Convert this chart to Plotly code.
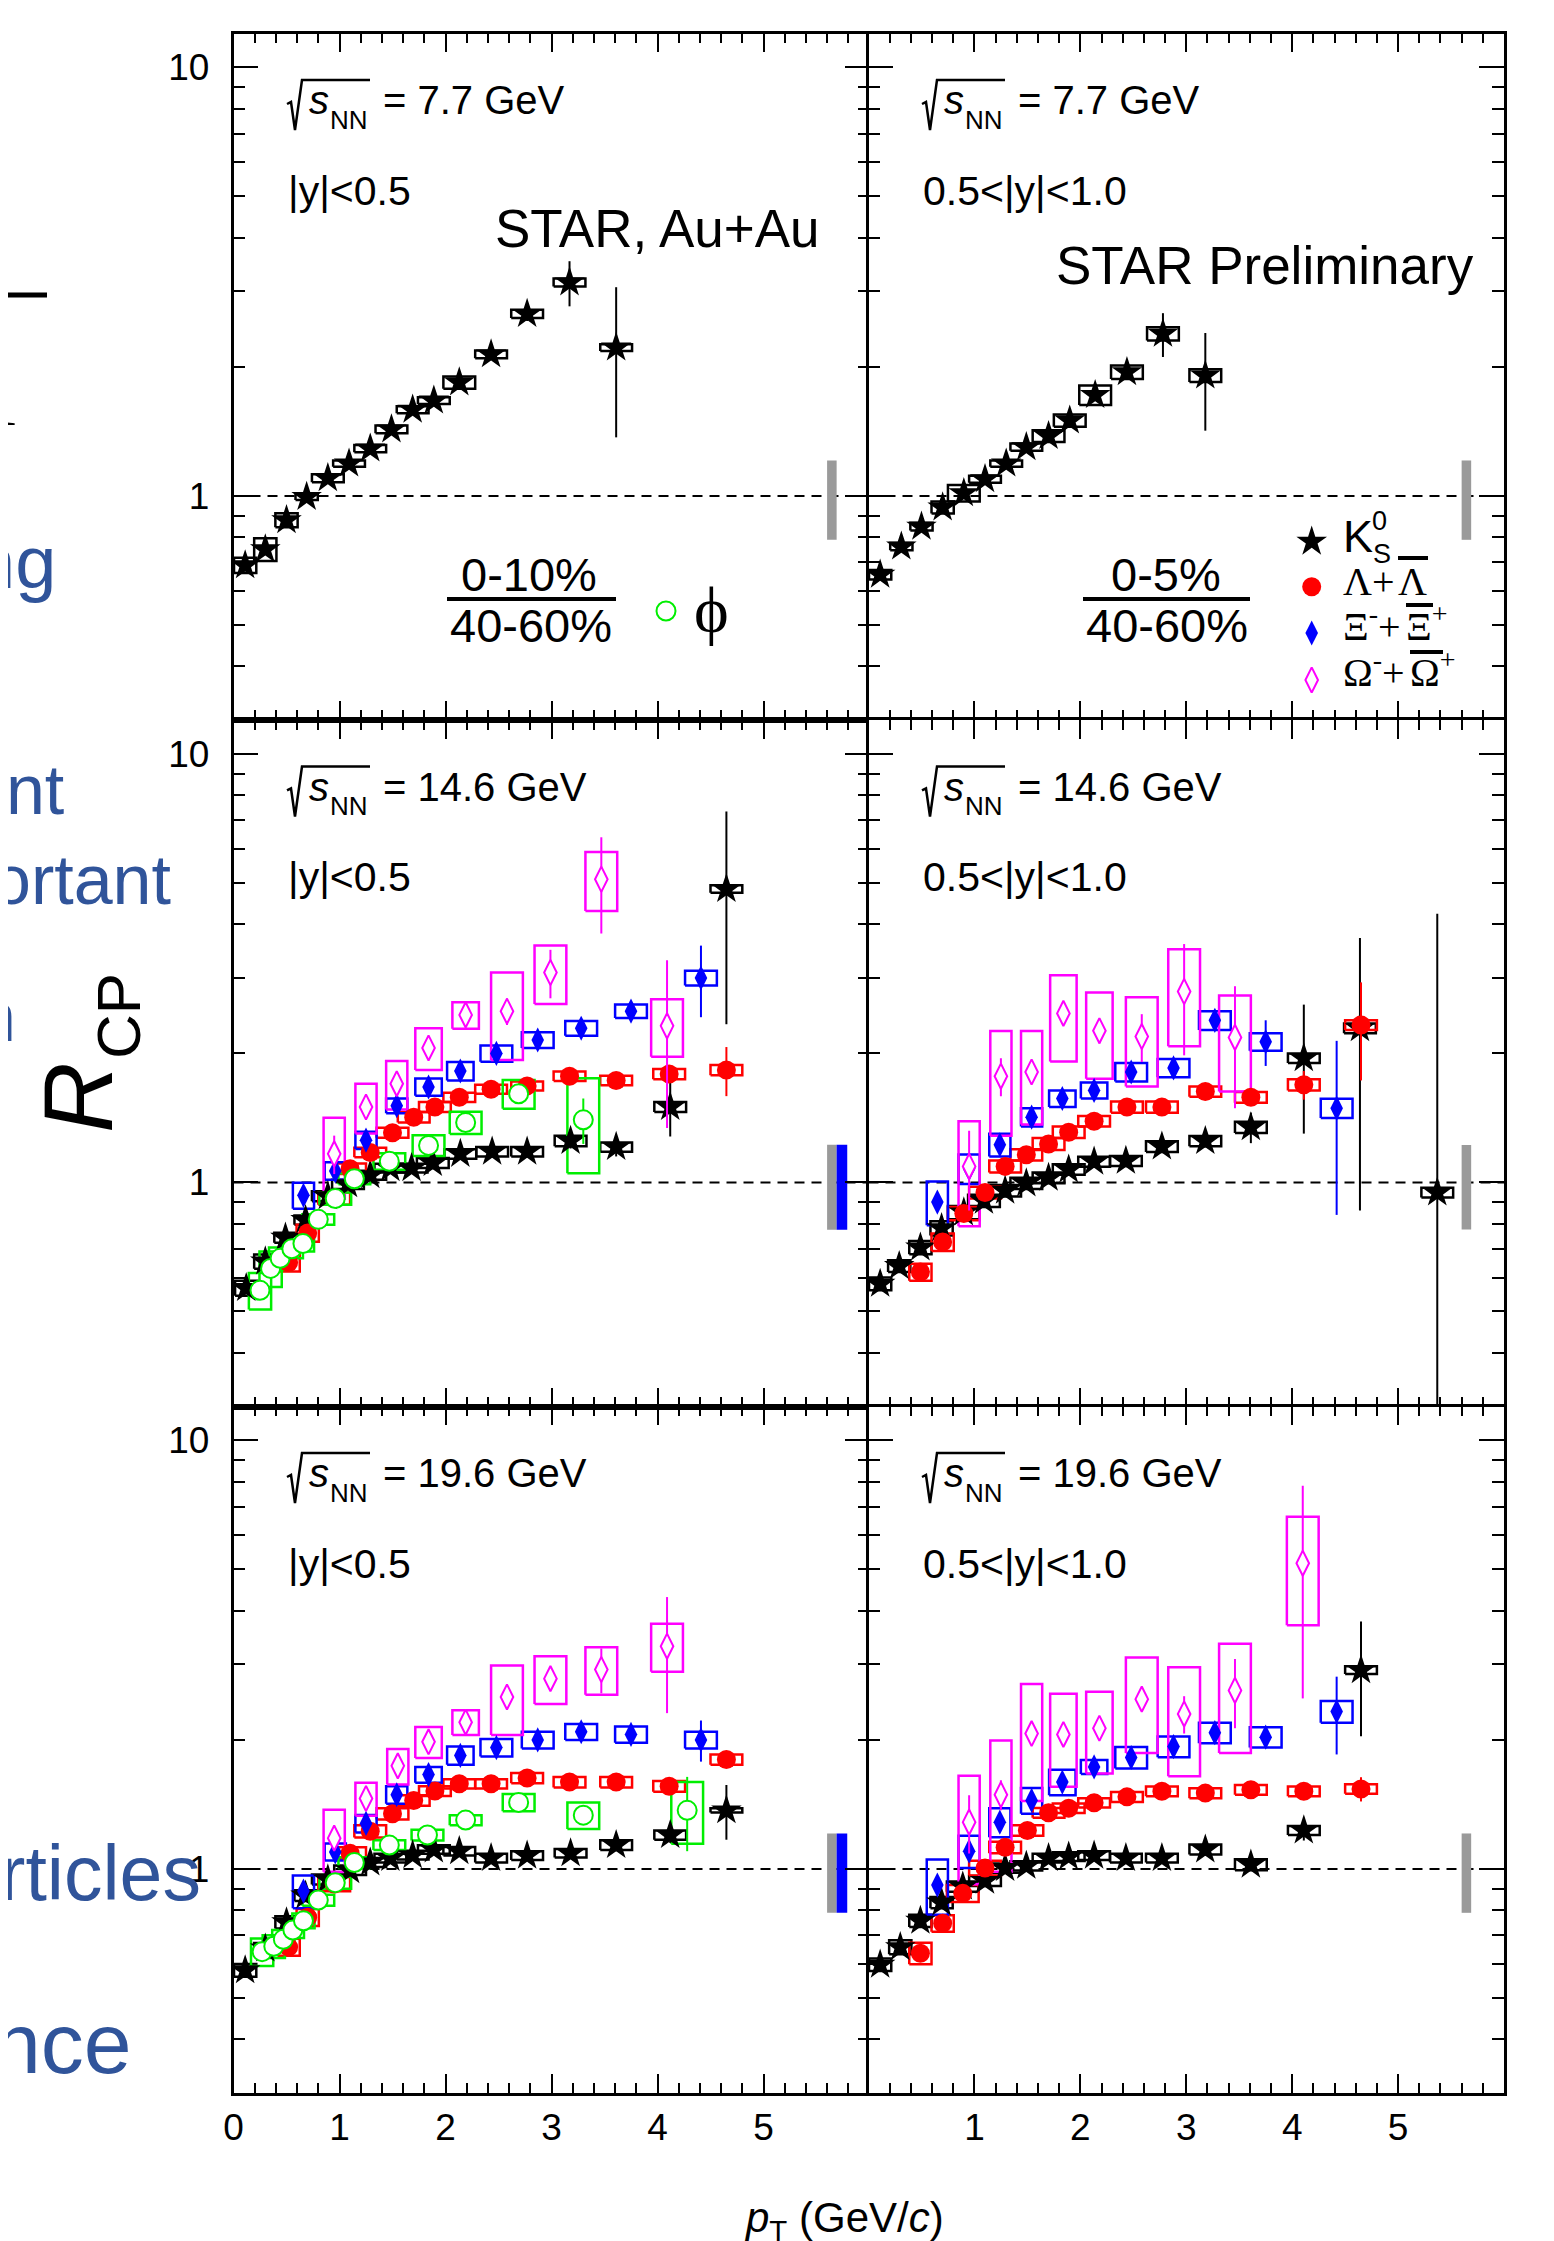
import math
import plotly.graph_objects as go

# ============ DATA ============
# --- sqrt(sNN) = 7.7 GeV ---
k0s_77_y05_pt = [0.11, 0.30, 0.50, 0.69, 0.89, 1.09, 1.29, 1.49, 1.69, 1.89, 2.13, 2.43, 2.77, 3.17, 3.61]
k0s_77_y05_r = [0.689, 0.751, 0.878, 0.995, 1.10, 1.19, 1.29, 1.43, 1.59, 1.67, 1.84, 2.14, 2.66, 3.15, 2.22]
k0s_77_y05_stat = [0.01, 0.01, 0.01, 0.01, 0.01, 0.01, 0.02, 0.02, 0.02, 0.03, 0.04, 0.06, 0.10, 0.38, 0.85]
k0s_77_y05_sys = [0.028, 0.046, 0.033, 0.016, 0.023, 0.02, 0.025, 0.03, 0.03, 0.03, 0.06, 0.045, 0.06, 0.067, 0.04]

k0s_77_y10_pt = [0.11, 0.31, 0.50, 0.70, 0.90, 1.10, 1.30, 1.49, 1.70, 1.90, 2.14, 2.44, 2.78, 3.18]
k0s_77_y10_r = [0.655, 0.762, 0.848, 0.94, 1.015, 1.094, 1.19, 1.30, 1.38, 1.50, 1.72, 1.945, 2.39, 1.91]
k0s_77_y10_stat = [0.01, 0.01, 0.01, 0.01, 0.01, 0.01, 0.02, 0.02, 0.02, 0.03, 0.04, 0.06, 0.28, 0.49]
k0s_77_y10_sys = [0.017, 0.015, 0.018, 0.03, 0.045, 0.02, 0.02, 0.025, 0.043, 0.05, 0.09, 0.07, 0.085, 0.065]

# --- sqrt(sNN) = 14.6 GeV, |y|<0.5 ---
k0s_146_y05_pt = [0.12, 0.30, 0.49, 0.68, 0.89, 1.08, 1.29, 1.48, 1.68, 1.88, 2.14, 2.44, 2.77, 3.18, 3.61, 4.12, 4.65]
k0s_146_y05_r = [0.567, 0.654, 0.743, 0.817, 0.929, 0.99, 1.04, 1.08, 1.08, 1.11, 1.166, 1.18, 1.18, 1.25, 1.21, 1.50, 4.84]
k0s_146_y05_stat = [0.01, 0.01, 0.01, 0.01, 0.01, 0.01, 0.01, 0.01, 0.02, 0.02, 0.02, 0.03, 0.03, 0.05, 0.06, 0.22, 2.5]
k0s_146_y05_sys = [0.023, 0.025, 0.02, 0.02, 0.025, 0.025, 0.025, 0.025, 0.025, 0.03, 0.03, 0.03, 0.03, 0.035, 0.03, 0.04, 0.1]

lam_146_y05_pt = [0.52, 0.70, 0.95, 1.10, 1.29, 1.50, 1.70, 1.90, 2.13, 2.43, 2.77, 3.17, 3.61, 4.11, 4.65]
lam_146_y05_r = [0.65, 0.762, 0.917, 1.077, 1.175, 1.306, 1.42, 1.50, 1.58, 1.65, 1.68, 1.77, 1.73, 1.79, 1.83]
lam_146_y05_stat = [0.01, 0.01, 0.01, 0.01, 0.01, 0.02, 0.02, 0.02, 0.02, 0.03, 0.03, 0.04, 0.05, 0.07, 0.24]
lam_146_y05_sys = [0.03, 0.035, 0.03, 0.03, 0.03, 0.035, 0.04, 0.04, 0.04, 0.04, 0.04, 0.045, 0.045, 0.05, 0.05]

xi_146_y05_pt = [0.66, 0.96, 1.25, 1.54, 1.84, 2.14, 2.48, 2.87, 3.28, 3.75, 4.41]
xi_146_y05_r = [0.933, 1.064, 1.255, 1.51, 1.67, 1.82, 2.0, 2.15, 2.29, 2.51, 3.0]
xi_146_y05_stat = [0.03, 0.04, 0.04, 0.04, 0.05, 0.07, 0.07, 0.08, 0.09, 0.10, 0.57]
xi_146_y05_sys = [0.065, 0.05, 0.058, 0.06, 0.077, 0.09, 0.087, 0.09, 0.09, 0.09, 0.12]

om_146_y05_pt = [0.95, 1.25, 1.54, 1.84, 2.19, 2.58, 2.99, 3.47, 4.09]
om_146_y05_r = [1.166, 1.50, 1.70, 2.06, 2.46, 2.51, 3.09, 5.1, 2.32]
om_146_y05_stat = [0.12, 0.06, 0.1, 0.1, 0.05, 0.18, 0.4, 1.29, 0.98]
om_146_y05_sys = [0.25, 0.2, 0.22, 0.23, 0.175, 0.58, 0.48, 0.8, 0.355]

phi_146_y05_pt = [0.25, 0.35, 0.44, 0.55, 0.655, 0.80, 0.96, 1.14, 1.47, 1.84, 2.19, 2.69, 3.30]
phi_146_y05_r = [0.56, 0.63, 0.665, 0.70, 0.72, 0.82, 0.917, 1.02, 1.12, 1.22, 1.38, 1.61, 1.40]
phi_146_y05_stat = [0.02, 0.02, 0.02, 0.02, 0.02, 0.02, 0.02, 0.02, 0.02, 0.03, 0.03, 0.05, 0.17]
phi_146_y05_sys = [0.055, 0.06, 0.04, 0.035, 0.03, 0.023, 0.03, 0.03, 0.05, 0.068, 0.083, 0.125, 0.35]

# --- sqrt(sNN) = 14.6 GeV, 0.5<|y|<1.0 ---
k0s_146_y10_pt = [0.11, 0.29, 0.49, 0.69, 0.90, 1.09, 1.29, 1.49, 1.70, 1.89, 2.13, 2.43, 2.77, 3.18, 3.61, 4.11, 4.64, 5.37]
k0s_146_y10_r = [0.58, 0.638, 0.705, 0.782, 0.851, 0.906, 0.957, 0.995, 1.025, 1.072, 1.118, 1.123, 1.213, 1.249, 1.345, 1.95, 2.29, 0.947]
k0s_146_y10_stat = [0.01, 0.01, 0.01, 0.01, 0.01, 0.01, 0.01, 0.01, 0.01, 0.02, 0.02, 0.02, 0.03, 0.04, 0.11, 0.65, 1.43, 3.29]
k0s_146_y10_stat_lo = [0.01, 0.01, 0.01, 0.01, 0.01, 0.01, 0.01, 0.01, 0.01, 0.02, 0.02, 0.02, 0.03, 0.04, 0.11, 0.65, 1.43, 0.90]
k0s_146_y10_sys = [0.02, 0.02, 0.025, 0.03, 0.03, 0.03, 0.03, 0.03, 0.03, 0.03, 0.03, 0.03, 0.035, 0.035, 0.04, 0.05, 0.06, 0.025]

lam_146_y10_pt = [0.49, 0.70, 0.90, 1.10, 1.29, 1.49, 1.70, 1.89, 2.13, 2.44, 2.77, 3.18, 3.61, 4.11, 4.65]
lam_146_y10_r = [0.618, 0.726, 0.846, 0.947, 1.09, 1.16, 1.23, 1.31, 1.39, 1.50, 1.50, 1.63, 1.58, 1.69, 2.33]
lam_146_y10_stat = [0.01, 0.01, 0.01, 0.01, 0.02, 0.02, 0.02, 0.02, 0.02, 0.03, 0.03, 0.04, 0.05, 0.13, 0.6]
lam_146_y10_sys = [0.028, 0.034, 0.03, 0.03, 0.035, 0.035, 0.04, 0.04, 0.04, 0.045, 0.045, 0.045, 0.045, 0.05, 0.06]

xi_146_y10_pt = [0.65, 0.95, 1.24, 1.54, 1.83, 2.13, 2.48, 2.88, 3.27, 3.75, 4.42]
xi_146_y10_r = [0.90, 1.077, 1.224, 1.42, 1.57, 1.64, 1.81, 1.85, 2.39, 2.13, 1.49]
xi_146_y10_stat = [0.03, 0.05, 0.04, 0.04, 0.04, 0.05, 0.06, 0.07, 0.10, 0.26, 0.65]
xi_146_y10_sys = [0.105, 0.085, 0.075, 0.07, 0.07, 0.07, 0.09, 0.09, 0.12, 0.1, 0.077]

om_146_y10_pt = [0.95, 1.25, 1.54, 1.84, 2.18, 2.58, 2.98, 3.46]
om_146_y10_r = [1.09, 1.77, 1.81, 2.48, 2.26, 2.19, 2.79, 2.18]
om_146_y10_stat = [0.23, 0.18, 0.1, 0.15, 0.15, 0.28, 0.81, 0.69]
om_146_y10_sys = [0.30, 0.485, 0.445, 0.565, 0.515, 0.515, 0.71, 0.55]

# --- sqrt(sNN) = 19.6 GeV, |y|<0.5 ---
k0s_196_y05_pt = [0.11, 0.30, 0.50, 0.68, 0.89, 1.10, 1.29, 1.48, 1.69, 1.89, 2.13, 2.43, 2.77, 3.18, 3.61, 4.12, 4.65]
k0s_196_y05_r = [0.58, 0.652, 0.751, 0.867, 0.945, 0.993, 1.035, 1.06, 1.077, 1.11, 1.10, 1.06, 1.074, 1.088, 1.137, 1.20, 1.37]
k0s_196_y05_stat = [0.01, 0.01, 0.01, 0.01, 0.01, 0.01, 0.01, 0.01, 0.01, 0.01, 0.01, 0.02, 0.02, 0.02, 0.03, 0.05, 0.20]
k0s_196_y05_sys = [0.02, 0.02, 0.025, 0.025, 0.025, 0.025, 0.025, 0.025, 0.025, 0.025, 0.025, 0.025, 0.025, 0.025, 0.03, 0.03, 0.015]

lam_196_y05_pt = [0.52, 0.70, 0.95, 1.10, 1.29, 1.50, 1.70, 1.90, 2.13, 2.43, 2.77, 3.17, 3.61, 4.11, 4.65]
lam_196_y05_r = [0.657, 0.771, 0.922, 1.088, 1.224, 1.345, 1.445, 1.52, 1.58, 1.58, 1.63, 1.595, 1.595, 1.56, 1.80]
lam_196_y05_stat = [0.01, 0.01, 0.01, 0.01, 0.01, 0.01, 0.02, 0.02, 0.02, 0.02, 0.02, 0.02, 0.03, 0.04, 0.08]
lam_196_y05_sys = [0.03, 0.035, 0.035, 0.035, 0.04, 0.04, 0.04, 0.04, 0.04, 0.04, 0.045, 0.045, 0.045, 0.045, 0.05]

xi_196_y05_pt = [0.66, 0.96, 1.25, 1.54, 1.84, 2.14, 2.48, 2.87, 3.28, 3.75, 4.41]
xi_196_y05_r = [0.888, 1.096, 1.277, 1.49, 1.66, 1.84, 1.92, 2.0, 2.09, 2.06, 2.0]
xi_196_y05_stat = [0.02, 0.03, 0.03, 0.03, 0.04, 0.04, 0.05, 0.06, 0.07, 0.08, 0.22]
xi_196_y05_sys = [0.078, 0.05, 0.06, 0.07, 0.07, 0.09, 0.09, 0.09, 0.09, 0.09, 0.09]

om_196_y05_pt = [0.95, 1.25, 1.55, 1.84, 2.19, 2.58, 2.99, 3.47, 4.09]
om_196_y05_r = [1.18, 1.46, 1.74, 1.98, 2.20, 2.52, 2.78, 2.92, 3.31]
om_196_y05_stat = [0.06, 0.05, 0.06, 0.07, 0.07, 0.10, 0.15, 0.35, 1.0]
om_196_y05_sys = [0.195, 0.13, 0.165, 0.165, 0.145, 0.465, 0.355, 0.37, 0.425]

phi_196_y05_pt = [0.27, 0.38, 0.47, 0.56, 0.66, 0.80, 0.96, 1.14, 1.47, 1.83, 2.19, 2.69, 3.30, 4.28]
phi_196_y05_r = [0.641, 0.66, 0.685, 0.72, 0.757, 0.846, 0.929, 1.035, 1.137, 1.20, 1.30, 1.43, 1.335, 1.37]
phi_196_y05_stat = [0.02, 0.02, 0.02, 0.02, 0.02, 0.02, 0.02, 0.02, 0.02, 0.02, 0.02, 0.03, 0.04, 0.27]
phi_196_y05_sys = [0.047, 0.04, 0.035, 0.03, 0.03, 0.025, 0.03, 0.03, 0.03, 0.035, 0.035, 0.066, 0.095, 0.225]

# --- sqrt(sNN) = 19.6 GeV, 0.5<|y|<1.0 ---
k0s_196_y10_pt = [0.11, 0.30, 0.49, 0.69, 0.89, 1.10, 1.29, 1.49, 1.70, 1.89, 2.13, 2.43, 2.77, 3.18, 3.61, 4.11, 4.65]
k0s_196_y10_r = [0.598, 0.657, 0.757, 0.835, 0.91, 0.938, 1.005, 1.017, 1.06, 1.069, 1.074, 1.06, 1.06, 1.11, 1.023, 1.23, 2.91]
k0s_196_y10_stat = [0.01, 0.01, 0.01, 0.01, 0.01, 0.01, 0.01, 0.01, 0.01, 0.01, 0.01, 0.01, 0.01, 0.01, 0.02, 0.065, 0.87]
k0s_196_y10_sys = [0.02, 0.025, 0.025, 0.025, 0.025, 0.025, 0.025, 0.025, 0.025, 0.025, 0.025, 0.025, 0.025, 0.03, 0.03, 0.03, 0.06]

lam_196_y10_pt = [0.49, 0.70, 0.89, 1.10, 1.29, 1.50, 1.70, 1.89, 2.13, 2.44, 2.77, 3.18, 3.61, 4.11, 4.65]
lam_196_y10_r = [0.636, 0.747, 0.877, 1.005, 1.123, 1.23, 1.352, 1.386, 1.427, 1.473, 1.518, 1.503, 1.53, 1.518, 1.537]
lam_196_y10_stat = [0.01, 0.01, 0.01, 0.01, 0.01, 0.01, 0.02, 0.02, 0.02, 0.02, 0.02, 0.02, 0.03, 0.04, 0.10]
lam_196_y10_sys = [0.037, 0.033, 0.04, 0.04, 0.035, 0.035, 0.035, 0.035, 0.035, 0.04, 0.04, 0.04, 0.04, 0.04, 0.04]

xi_196_y10_pt = [0.65, 0.95, 1.24, 1.54, 1.83, 2.13, 2.48, 2.88, 3.27, 3.75, 4.42]
xi_196_y10_r = [0.917, 1.10, 1.286, 1.445, 1.595, 1.73, 1.82, 1.93, 2.08, 2.03, 2.33]
xi_196_y10_stat = [0.03, 0.04, 0.04, 0.04, 0.04, 0.05, 0.05, 0.06, 0.06, 0.06, 0.48]
xi_196_y10_sys = [0.135, 0.095, 0.1, 0.1, 0.11, 0.065, 0.105, 0.107, 0.115, 0.11, 0.135]

om_196_y10_pt = [0.95, 1.25, 1.54, 1.84, 2.18, 2.58, 2.98, 3.46, 4.10]
om_196_y10_r = [1.286, 1.49, 2.07, 2.06, 2.13, 2.49, 2.30, 2.61, 5.17]
om_196_y10_stat = [0.2, 0.12, 0.1, 0.08, 0.08, 0.1, 0.23, 0.48, 2.67]
om_196_y10_sys = [0.365, 0.505, 0.63, 0.505, 0.46, 0.625, 0.655, 0.745, 1.465]

# normalisation uncertainties (half-height around R_CP = 1)
norm_gray_77_y05 = 0.21
norm_gray_77_y10 = 0.21
norm_gray_146_y05 = 0.224
norm_blue_146_y05 = 0.224
norm_gray_146_y10 = 0.223
norm_gray_196_y05 = 0.21
norm_blue_196_y05 = 0.21
norm_gray_196_y10 = 0.21

ENERGIES = ["7.7", "14.6", "19.6"]
RAPIDITY = ["|y|<0.5", "0.5<|y|<1.0"]
X_TICK_LABELS_LEFT = ["0", "1", "2", "3", "4", "5", ""]
X_TICK_LABELS_RIGHT = ["", "1", "2", "3", "4", "5", ""]
Y_TICK_VALUES = [1, 10]
Y_TICK_LABELS = ["1", "10"]

PANELS = [
    dict(series=[("k0s", k0s_77_y05_pt, k0s_77_y05_r, k0s_77_y05_stat, None, k0s_77_y05_sys)],
         norm=[("gray", norm_gray_77_y05)]),
    dict(series=[("k0s", k0s_77_y10_pt, k0s_77_y10_r, k0s_77_y10_stat, None, k0s_77_y10_sys)],
         norm=[("gray", norm_gray_77_y10)]),
    dict(series=[("k0s", k0s_146_y05_pt, k0s_146_y05_r, k0s_146_y05_stat, None, k0s_146_y05_sys),
                 ("lam", lam_146_y05_pt, lam_146_y05_r, lam_146_y05_stat, None, lam_146_y05_sys),
                 ("xi", xi_146_y05_pt, xi_146_y05_r, xi_146_y05_stat, None, xi_146_y05_sys),
                 ("om", om_146_y05_pt, om_146_y05_r, om_146_y05_stat, None, om_146_y05_sys),
                 ("phi", phi_146_y05_pt, phi_146_y05_r, phi_146_y05_stat, None, phi_146_y05_sys)],
         norm=[("gray", norm_gray_146_y05), ("blue", norm_blue_146_y05)]),
    dict(series=[("k0s", k0s_146_y10_pt, k0s_146_y10_r, k0s_146_y10_stat, k0s_146_y10_stat_lo, k0s_146_y10_sys),
                 ("lam", lam_146_y10_pt, lam_146_y10_r, lam_146_y10_stat, None, lam_146_y10_sys),
                 ("xi", xi_146_y10_pt, xi_146_y10_r, xi_146_y10_stat, None, xi_146_y10_sys),
                 ("om", om_146_y10_pt, om_146_y10_r, om_146_y10_stat, None, om_146_y10_sys)],
         norm=[("gray", norm_gray_146_y10)]),
    dict(series=[("k0s", k0s_196_y05_pt, k0s_196_y05_r, k0s_196_y05_stat, None, k0s_196_y05_sys),
                 ("lam", lam_196_y05_pt, lam_196_y05_r, lam_196_y05_stat, None, lam_196_y05_sys),
                 ("xi", xi_196_y05_pt, xi_196_y05_r, xi_196_y05_stat, None, xi_196_y05_sys),
                 ("om", om_196_y05_pt, om_196_y05_r, om_196_y05_stat, None, om_196_y05_sys),
                 ("phi", phi_196_y05_pt, phi_196_y05_r, phi_196_y05_stat, None, phi_196_y05_sys)],
         norm=[("gray", norm_gray_196_y05), ("blue", norm_blue_196_y05)]),
    dict(series=[("k0s", k0s_196_y10_pt, k0s_196_y10_r, k0s_196_y10_stat, None, k0s_196_y10_sys),
                 ("lam", lam_196_y10_pt, lam_196_y10_r, lam_196_y10_stat, None, lam_196_y10_sys),
                 ("xi", xi_196_y10_pt, xi_196_y10_r, xi_196_y10_stat, None, xi_196_y10_sys),
                 ("om", om_196_y10_pt, om_196_y10_r, om_196_y10_stat, None, om_196_y10_sys)],
         norm=[("gray", norm_gray_196_y10)]),
]

# ============ STYLE / LAYOUT ============
W, H = 1554, 2241
OFF = 8  # default <body> margin of the written page
SANS = "Liberation Sans, Arial, Helvetica, sans-serif"
SERIF = "Liberation Serif, Times New Roman, serif"
SLIDE_BLUE = "#30549a"
COL_X = [(233.5, 869.5), (868.5, 1504.0)]
ROW_Y = [(33.5, 720.0), (720.0, 1406.5), (1406.5, 2093.0)]
X_RANGE = [0, 6]
Y_MIN, Y_MAX = 0.3, 12.0
Y_LOG_RANGE = [math.log10(Y_MIN), math.log10(Y_MAX)]

COLORS = dict(k0s="black", lam="#ff0000", xi="#0000ff", om="#ff00ff", phi="#00ee00")
MARKERS = dict(
    k0s=dict(symbol="star", size=23, color="black", line=dict(width=0)),
    lam=dict(symbol="circle", size=19, color="#ff0000", line=dict(width=0)),
    xi=dict(symbol="diamond-tall", size=18, color="#0000ff", line=dict(width=0)),
    om=dict(symbol="diamond-tall", size=18, color="white", line=dict(width=2, color="#ff00ff")),
    phi=dict(symbol="circle", size=19, color="white", line=dict(width=2, color="#00ee00")),
)
NORM_COLORS = dict(gray="#9a9a9a", blue="#0000ff")
NORM_X = dict(gray=(5.6, 5.69), blue=(5.69, 5.79))


def PX(x):
    return (x - OFF) / W


def PY(y):
    return 1 - (y - OFF) / H


def box_halfwidth(kind, pt):
    if kind in ("xi", "om"):
        return 0.10 if pt < 1.6 else (0.125 if pt < 2.3 else 0.15)
    return 0.105 if pt < 0.8 else 0.15


def sfx(i):
    return "" if i == 0 else str(i + 1)


def pixel_to_data(i, x, y):
    row, col = divmod(i, 2)
    x0, x1 = COL_X[col]
    y0, y1 = ROW_Y[row]
    xd = X_RANGE[0] + (x - x0) / (x1 - x0) * (X_RANGE[1] - X_RANGE[0])
    lg = Y_LOG_RANGE[1] - (y - y0) / (y1 - y0) * (Y_LOG_RANGE[1] - Y_LOG_RANGE[0])
    return xd, 10 ** lg


fig = go.Figure()

for i, panel in enumerate(PANELS):
    xa, ya = "x" + sfx(i), "y" + sfx(i)
    fig.add_trace(go.Scatter(x=X_RANGE, y=[1, 1], mode="lines", xaxis=xa, yaxis=ya,
                             line=dict(color="black", width=2, dash="10px,7px"), hoverinfo="skip"))
    for kind, h in panel["norm"]:
        nx0, nx1 = NORM_X[kind]
        fig.add_trace(go.Scatter(x=[nx0, nx1, nx1, nx0, nx0], y=[1 - h, 1 - h, 1 + h, 1 + h, 1 - h],
                                 mode="lines", fill="toself", fillcolor=NORM_COLORS[kind],
                                 line=dict(width=0, color=NORM_COLORS[kind]),
                                 xaxis=xa, yaxis=ya, hoverinfo="skip"))
    for kind, pt, r, stat, stat_lo, sys in panel["series"]:
        bx, by = [], []
        for p, v, s in zip(pt, r, sys):
            hw = box_halfwidth(kind, p)
            bx += [p - hw, p + hw, p + hw, p - hw, p - hw, None]
            by += [v - s, v - s, v + s, v + s, v - s, None]
        fig.add_trace(go.Scatter(x=bx, y=by, mode="lines", xaxis=xa, yaxis=ya,
                                 line=dict(color=COLORS[kind], width=2.5), hoverinfo="skip"))
    for kind, pt, r, stat, stat_lo, sys in panel["series"]:
        err = dict(type="data", array=stat, visible=True, thickness=2, width=0, color=COLORS[kind])
        if stat_lo is not None:
            err["symmetric"] = False
            err["arrayminus"] = stat_lo
        fig.add_trace(go.Scatter(x=pt, y=r, mode="markers", xaxis=xa, yaxis=ya,
                                 marker=MARKERS[kind], error_y=err, hoverinfo="skip"))

# legend keys (top-right panel) and phi key (top-left panel)
LEGEND_KEYS = [("k0s", 1311.7, 541.7), ("lam", 1311.7, 586.7), ("xi", 1311.7, 633.0), ("om", 1311.7, 680.0)]
for kind, lx, ly in LEGEND_KEYS:
    dx, dy = pixel_to_data(1, lx, ly)
    fig.add_trace(go.Scatter(x=[dx], y=[dy], mode="markers", xaxis="x2", yaxis="y2",
                             marker=MARKERS[kind], hoverinfo="skip", cliponaxis=False))
dx, dy = pixel_to_data(0, 666, 611)
fig.add_trace(go.Scatter(x=[dx], y=[dy], mode="markers", xaxis="x", yaxis="y",
                         marker=MARKERS["phi"], hoverinfo="skip"))

x_minor = [round(0.2 * k, 1) for k in range(31) if k % 5]
y_minor = [k / 10 for k in range(3, 10)] + list(range(2, 10))
layout = dict(width=W, height=H, margin=dict(l=0, r=0, t=0, b=0, autoexpand=False), autosize=False,
              paper_bgcolor="white", plot_bgcolor="white", showlegend=False, hovermode=False)
for i in range(6):
    row, col = divmod(i, 2)
    x0, x1 = COL_X[col]
    y0, y1 = ROW_Y[row]
    layout["xaxis" + sfx(i)] = dict(
        domain=[PX(x0), PX(x1)], range=X_RANGE, anchor="y" + sfx(i),
        showline=True, linecolor="black", linewidth=2.5, mirror="allticks",
        showgrid=False, zeroline=False,
        ticks="inside", ticklen=19, tickwidth=2, tickcolor="black",
        tickmode="array", tickvals=list(range(7)),
        ticktext=X_TICK_LABELS_LEFT if col == 0 else X_TICK_LABELS_RIGHT,
        showticklabels=(row == 2), ticklabelstandoff=0,
        tickfont=dict(family=SANS, size=37, color="black"),
        minor=dict(tickmode="array", tickvals=x_minor, ticks="inside", ticklen=10,
                   tickwidth=2, tickcolor="black", showgrid=False),
    )
    layout["yaxis" + sfx(i)] = dict(
        domain=[PY(y1), PY(y0)], type="log", range=Y_LOG_RANGE, anchor="x" + sfx(i),
        showline=True, linecolor="black", linewidth=2.5, mirror="allticks",
        showgrid=False, zeroline=False,
        ticks="inside", ticklen=25, tickwidth=2, tickcolor="black",
        tickmode="array", tickvals=Y_TICK_VALUES, ticktext=Y_TICK_LABELS,
        showticklabels=(col == 0), ticklabelstandoff=14,
        tickfont=dict(family=SANS, size=37, color="black"),
        minor=dict(tickmode="array", tickvals=y_minor, ticks="inside", ticklen=12,
                   tickwidth=2, tickcolor="black", showgrid=False),
    )

annotations = []
shapes = []


def ann(x, y, text, size, family=SANS, xanchor="left", yanchor="middle", angle=0, color="black"):
    annotations.append(dict(xref="paper", yref="paper", x=PX(x), y=PY(y), text=text,
                            showarrow=False, xanchor=xanchor, yanchor=yanchor, textangle=angle,
                            borderpad=0, font=dict(family=family, size=size, color=color)))


def ann_base(x, baseline, text, size, family=SANS, xanchor="left", color="black"):
    asc, desc = (0.905, 0.212) if family == SANS else (0.891, 0.216)
    ann(x, baseline - (asc - desc) / 2 * size, text, size, family, xanchor, "middle", 0, color)


def ann_sup(x, baseline, text, size, family=SANS, xanchor="left"):
    desc = 0.212 if family == SANS else 0.216
    ann(x, baseline + desc * size, text, size, family, xanchor, "bottom")


def hline(x0, x1, y, width=4, color="black"):
    shapes.append(dict(type="line", xref="paper", yref="paper", x0=PX(x0), x1=PX(x1),
                       y0=PY(y), y1=PY(y), line=dict(color=color, width=width)))


RADICAL = [(53.5, 70.5), (57.5, 68.5), (61.5, 96.5), (68.5, 46.5), (136.5, 46.5)]
for i in range(6):
    row, col = divmod(i, 2)
    ox, oy = COL_X[col][0], ROW_Y[row][0]
    path = "M " + " L ".join(f"{PX(ox + px):.5f},{PY(oy + py):.5f}" for px, py in RADICAL)
    shapes.append(dict(type="path", xref="paper", yref="paper", path=path,
                       line=dict(color="black", width=2.5)))
    ann_base(ox + 74.5, oy + 80.5, "<i>s</i>", 40)
    ann_base(ox + 95.0, oy + 95.5, "NN", 26)
    ann_base(ox + 148.5, oy + 80.5, f"= {ENERGIES[row]} GeV", 40)
    ann_base(ox + 53.5, oy + 171.5, RAPIDITY[col], 41)

ann_base(494, 247, "STAR, Au+Au", 53)
ann_base(1055, 284, "STAR Preliminary", 53)

# centrality fractions
ann_base(529, 591, "0-10%", 47, xanchor="center")
hline(447, 616, 599)
ann_base(530.5, 642, "40-60%", 47, xanchor="center")
ann(711, 609, "ϕ", 66, family=SERIF, xanchor="center")
ann_base(1165.5, 591, "0-5%", 47, xanchor="center")
hline(1083, 1250, 599)
ann_base(1166.5, 642, "40-60%", 47, xanchor="center")

# legend text
ann_base(1342, 552, "K", 45)
ann_base(1371, 530, "0", 27)
ann_base(1372, 563, "S", 27)
ann_base(1342, 595, "Λ+", 40, family=SERIF)
ann_base(1397, 595, "Λ", 40, family=SERIF)
hline(1398, 1428, 558)
ann_sup(1342, 641, "Ξ<sup>-</sup>+", 40, family=SERIF)
ann_sup(1405, 641, "Ξ<sup>+</sup>", 40, family=SERIF)
hline(1406, 1433, 605)
ann_sup(1342, 687, "Ω<sup>-</sup>+", 40, family=SERIF)
ann_sup(1409, 687, "Ω<sup>+</sup>", 40, family=SERIF)
hline(1410, 1443, 652)

# axis titles
ann(78, 1098, "<i>R</i>", 98, angle=-90, xanchor="center", yanchor="middle")
ann(118, 1016, "CP", 62, angle=-90, xanchor="center", yanchor="middle")
ann(844, 2193, "<i>p</i><sub>T</sub> (GeV/<i>c</i>)", 42, xanchor="center", yanchor="top")

# fragments of the underlying slide text at the left edge
hline(0, 47, 295, width=5)
ann_base(20, 425, "1", 72, family=SERIF, xanchor="right")
ann_base(57, 588, "ng", 74, xanchor="right", color=SLIDE_BLUE)
ann_base(65, 814, "ant", 70, xanchor="right", color=SLIDE_BLUE)
ann_base(172, 904, "ortant", 70, xanchor="right", color=SLIDE_BLUE)
ann_base(17, 1041, "n", 70, xanchor="right", color=SLIDE_BLUE)
ann_base(202, 1900, "articles", 77, xanchor="right", color=SLIDE_BLUE)
ann_base(133, 2073, "nce", 86, xanchor="right", color=SLIDE_BLUE)

layout["annotations"] = annotations
layout["shapes"] = shapes
fig.update_layout(**layout)
fig.write_html("out.html")
